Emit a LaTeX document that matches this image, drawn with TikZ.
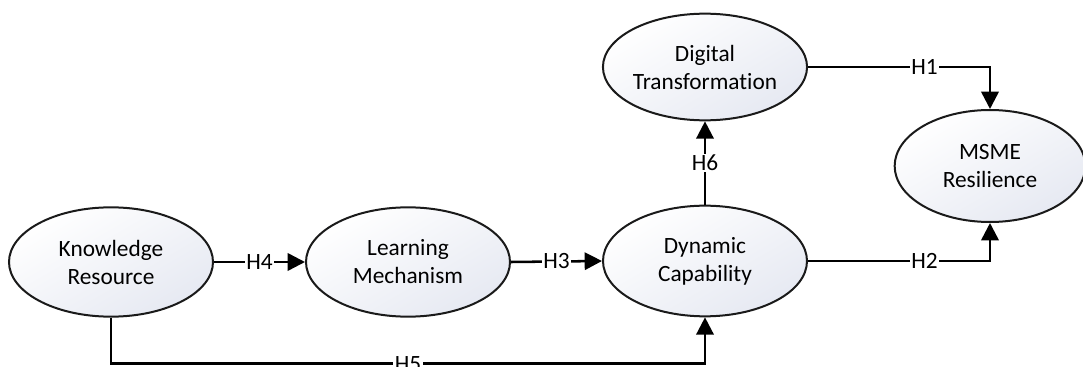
\documentclass[tikz,border=0pt]{standalone}
\usepackage{fontspec}
\setmainfont{Carlito}[Ligatures=NoCommon]
\usetikzlibrary{arrows.meta, positioning, shapes.geometric, calc}
\definecolor{constrfill}{HTML}{E6E9F2}
\definecolor{constrline}{HTML}{1A1A1A}

\begin{document}
\begin{tikzpicture}[x=0.75pt, y=-0.75pt,
  font=\fontsize{17.5}{21}\selectfont,
  construct/.style={ellipse, draw=constrline, line width=1.5pt, align=center,
    inner sep=0pt, top color=white, bottom color=constrfill,
    shading angle=30},
  link/.style={draw=black, line width=1.9pt,
    -{Triangle[length=13pt, width=13pt]}},
  hyp/.style={fill=white, inner sep=1pt, font=\fontsize{17.5}{19}\selectfont}]
  \useasboundingbox (0,0) rectangle (1083,367);
  % constructs
  \node[construct, minimum width=153pt, minimum height=82pt] (kr) at (111,262) {Knowledge\\Resource};
  \node[construct, minimum width=153pt, minimum height=82pt] (lm) at (408,262) {Learning\\Mechanism};
  \node[construct, minimum width=153pt, minimum height=83pt] (dc) at (705,261) {Dynamic\\Capability};
  \node[construct, minimum width=153pt, minimum height=80pt] (dt) at (705,67) {Digital\\Transformation};
  \node[construct, minimum width=143pt, minimum height=84pt] (ms) at (990,166) {MSME\\Resilience};
  % hypotheses
  \draw[link] (kr.east) -- node[hyp] {H4} (lm.west);
  \draw[link] (lm.east) -- node[hyp] {H3} (dc.west);
  \draw[link] (dc.north) -- node[hyp] {H6} (dt.south);
  \draw[link] (dt.east) -| node[hyp, pos=0.32] {H1} (ms.north);
  \draw[link] (dc.east) -| node[hyp, pos=0.32] {H2} (ms.south);
  \draw[link] (kr.south) -- ++(0,46) -| node[hyp, pos=0.25] {H5} (dc.south);
\end{tikzpicture}
\end{document}
